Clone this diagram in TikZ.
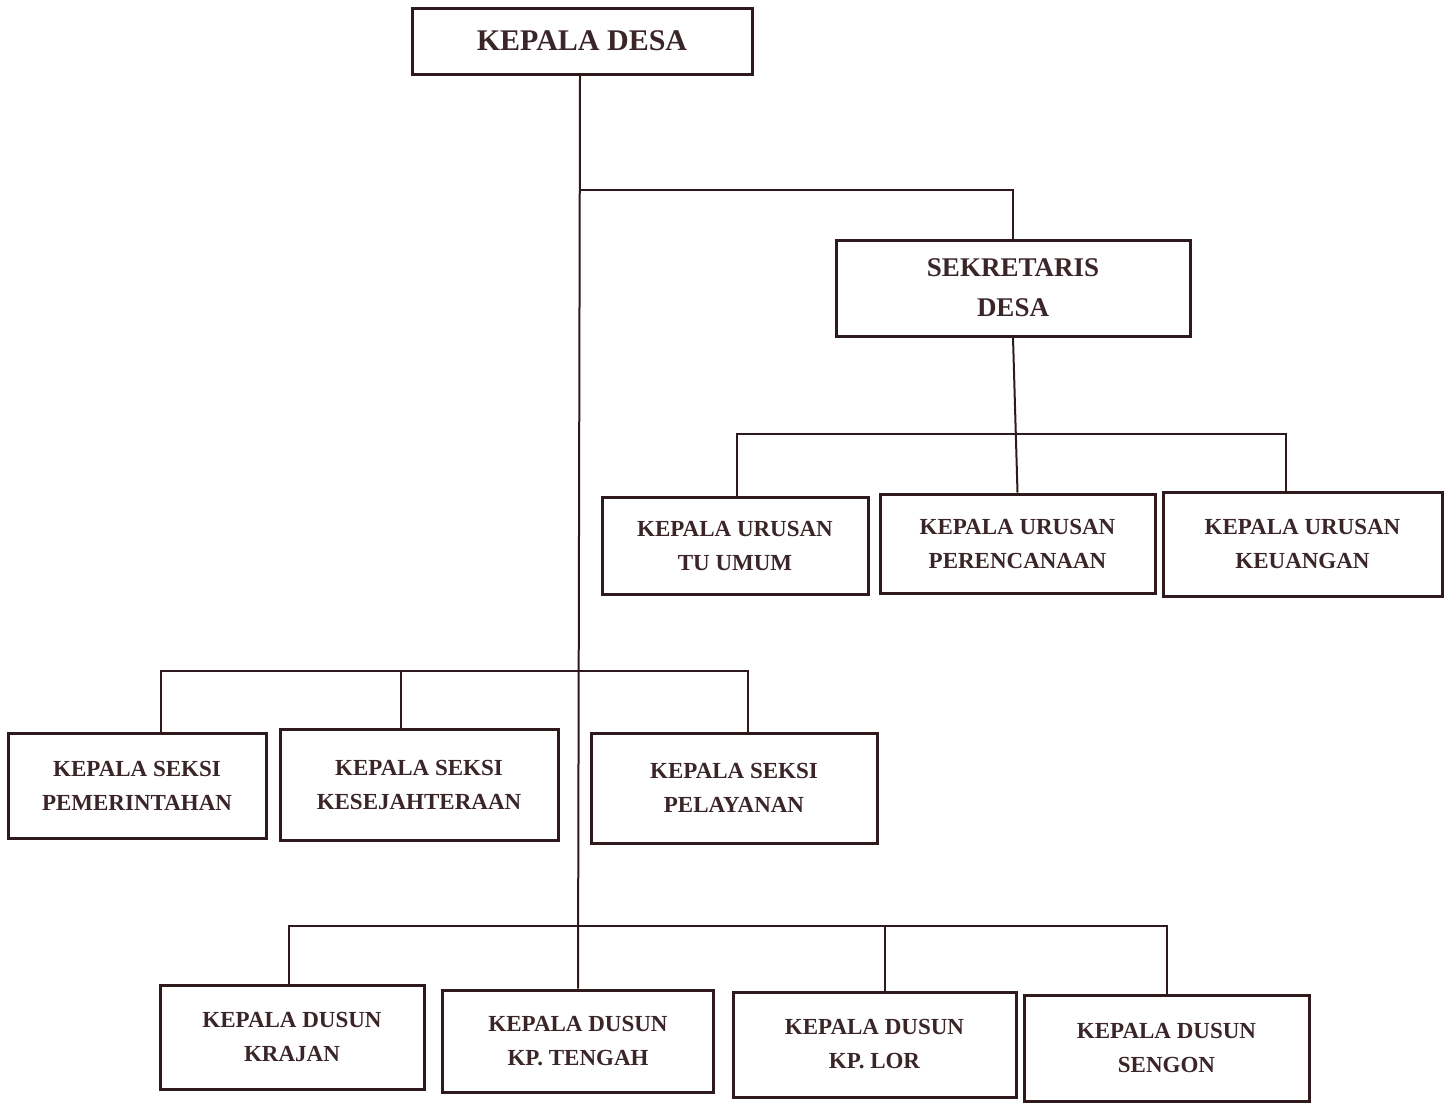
\documentclass[tikz,border=0pt]{standalone}
\usepackage{fontspec}
\setmainfont{Liberation Serif}
\definecolor{ink}{HTML}{2E1A1D}
\definecolor{txt}{HTML}{3A2528}
\begin{document}
\begin{tikzpicture}[x=1pt,y=-1pt,
  box/.style={draw=ink,line width=3pt,rectangle,align=center,text=txt,
    font=\fontsize{23}{34}\selectfont\bfseries,inner sep=0pt},
  link/.style={draw=ink,line width=2pt}]
\useasboundingbox (0,0) rectangle (1450,1104);
\fill[white] (0,0) rectangle (1450,1104);
% top
\node[box,minimum width=340,minimum height=66,font=\fontsize{30}{36}\selectfont\bfseries] (kd) at (582,41) {KEPALA DESA};
\node[box,minimum width=354,minimum height=96,font=\fontsize{27}{40}\selectfont\bfseries] (sd) at (1013,288) {SEKRETARIS\\DESA};
% urusan
\node[box,minimum width=266,minimum height=97] (u1) at (735,545.5) {KEPALA URUSAN\\TU UMUM};
\node[box,minimum width=275,minimum height=99] (u2) at (1017.5,543.5) {KEPALA URUSAN\\PERENCANAAN};
\node[box,minimum width=279,minimum height=104] (u3) at (1302.5,544) {KEPALA URUSAN\\KEUANGAN};
% seksi
\node[box,minimum width=258,minimum height=105] (s1) at (137,785.5) {KEPALA SEKSI\\PEMERINTAHAN};
\node[box,minimum width=278,minimum height=111] (s2) at (419,784.5) {KEPALA SEKSI\\KESEJAHTERAAN};
\node[box,minimum width=286,minimum height=110] (s3) at (734,788) {KEPALA SEKSI\\PELAYANAN};
% dusun
\node[box,minimum width=264,minimum height=104] (d1) at (292,1037) {KEPALA DUSUN\\KRAJAN};
\node[box,minimum width=271,minimum height=102] (d2) at (578,1041) {KEPALA DUSUN\\KP. TENGAH};
\node[box,minimum width=283,minimum height=105] (d3) at (874.5,1044.5) {KEPALA DUSUN\\KP. LOR};
\node[box,minimum width=285,minimum height=106] (d4) at (1166.5,1048) {KEPALA DUSUN\\SENGON};
% connector end points on the boxes
\coordinate (kdS) at ([xshift=-2pt]kd.south);
\coordinate (u1N) at ([xshift=2pt]u1.north);
\coordinate (u3N) at ([xshift=-17pt]u3.north);
\coordinate (s1N) at ([xshift=24pt]s1.north);
\coordinate (s2N) at ([xshift=-18pt]s2.north);
\coordinate (s3N) at ([xshift=14pt]s3.north);
\coordinate (d1N) at ([xshift=-3pt]d1.north);
\coordinate (d3N) at ([xshift=10pt]d3.north);
% connector junctions
\coordinate (j1) at (579,190);
\coordinate (jU) at (0,434);
\coordinate (jS) at (0,671);
\coordinate (jD) at (0,926);
% main trunk
\draw[link] (kdS) -- (d2.north);
% sekretaris branch
\draw[link] (j1) -| (sd.north);
% urusan
\draw[link] (sd.south) -- (u2.north);
\draw[link] (u1N) |- (jU -| u3N) -- (u3N);
% seksi
\draw[link] (s1N) |- (jS -| s3N) -- (s3N);
\draw[link] (s2N) -- (s2N |- jS);
% dusun
\draw[link] (d1N) |- (jD -| d4.north) -- (d4.north);
\draw[link] (d3N) -- (d3N |- jD);
\end{tikzpicture}
\end{document}
